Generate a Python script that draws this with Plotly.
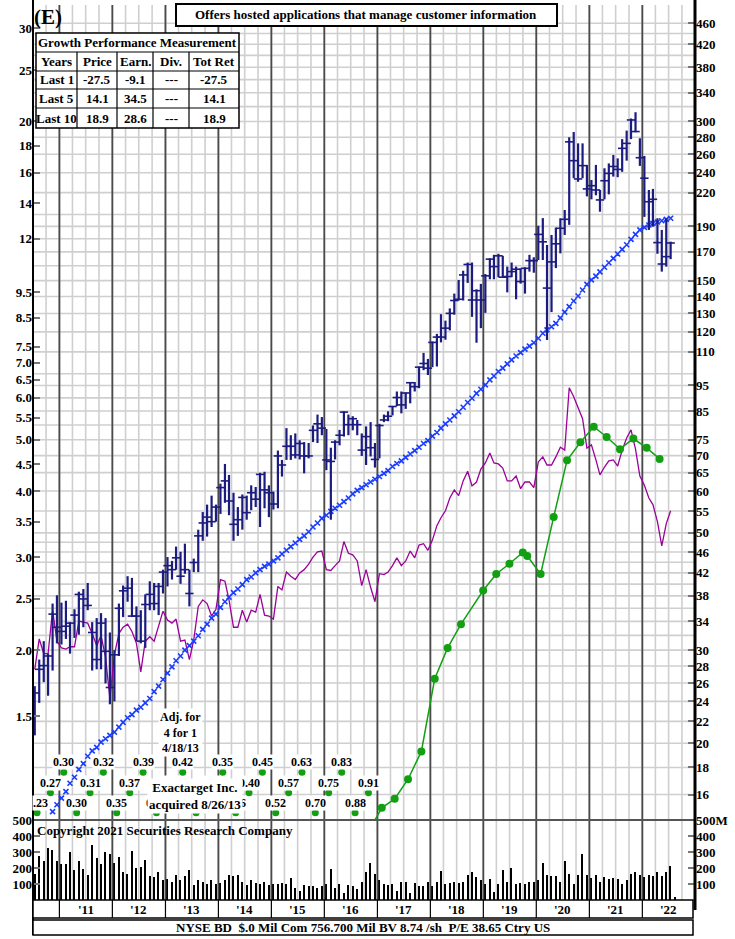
import math
import plotly.graph_objects as go
import pandas as pd

# ------------------------------------------------------------------ data
bar_months = pd.date_range('2010-07-01', periods=145, freq='MS') + pd.Timedelta(days=14)
vol_months = pd.date_range('2010-07-01', periods=146, freq='MS') + pd.Timedelta(days=14)

price_high = [1.71, 1.92, 2.08, 1.97, 2.45, 2.54, 2.46, 2.48, 2.26, 2.39,
              2.58, 2.61, 2.68, 2.26, 2.30, 2.35, 2.30, 2.16, 2.00, 2.45,
              2.65, 2.76, 2.74, 2.42, 2.38, 2.55, 2.70, 2.68, 2.68, 2.84,
              3.00, 2.95, 3.14, 3.07, 3.18, 2.84, 2.98, 3.38, 3.65, 3.77,
              3.92, 3.77, 4.13, 4.50, 4.29, 3.97, 3.73, 3.94, 3.92, 4.10,
              4.07, 4.33, 4.35, 4.10, 3.99, 4.77, 4.58, 5.26, 5.10, 5.14,
              4.99, 4.95, 4.93, 5.32, 5.58, 5.52, 5.24, 4.83, 4.99, 5.22,
              5.66, 5.58, 5.54, 5.45, 5.14, 5.30, 5.40, 4.93, 5.36, 5.58,
              5.66, 5.79, 6.17, 6.17, 6.14, 6.43, 6.43, 6.88, 7.30, 7.11,
              7.67, 7.93, 8.64, 8.40, 8.86, 9.45, 10.03, 10.44, 10.82, 10.82,
              9.63, 9.86, 10.29, 11.02, 11.19, 11.24, 11.14, 10.63, 10.82, 10.63,
              10.55, 10.60, 11.19, 11.07, 12.70, 13.13, 11.68, 12.20, 12.60, 13.12,
              13.60, 18.67, 19.10, 18.18, 18.18, 16.55, 15.50, 16.55, 14.84, 16.31,
              16.66, 17.28, 17.03, 18.52, 19.22, 20.26, 20.82, 18.59, 17.21, 14.84,
              14.91, 13.12, 12.47, 13.12, 11.85]
price_low = [1.38, 1.59, 1.74, 1.64, 1.83, 2.06, 2.05, 2.10, 1.97, 2.11,
             2.14, 2.21, 2.38, 1.83, 1.84, 1.84, 1.73, 1.58, 1.60, 1.95,
             2.31, 2.47, 2.31, 2.08, 2.06, 2.02, 2.38, 2.38, 2.33, 2.56,
             2.64, 2.72, 2.84, 2.67, 2.79, 2.42, 2.81, 2.81, 3.22, 3.28,
             3.42, 3.50, 3.62, 3.80, 3.60, 3.22, 3.29, 3.38, 3.53, 3.68,
             3.73, 3.42, 3.71, 3.57, 3.69, 3.71, 4.26, 4.58, 4.58, 4.61,
             4.59, 4.32, 4.61, 4.95, 4.93, 5.10, 4.38, 3.53, 4.59, 4.88,
             5.07, 5.10, 5.21, 5.10, 4.66, 4.48, 4.65, 4.43, 4.61, 5.40,
             5.42, 5.56, 5.79, 5.61, 5.72, 5.86, 6.17, 6.26, 6.77, 6.63,
             6.86, 6.88, 7.64, 7.73, 8.05, 8.62, 9.17, 9.17, 9.90, 8.54,
             7.63, 8.13, 8.69, 10.06, 10.06, 10.15, 10.15, 9.50, 10.15, 9.22,
             9.87, 9.45, 10.40, 10.35, 10.94, 10.94, 7.72, 8.72, 10.56, 11.26,
             12.20, 12.75, 15.62, 15.38, 15.62, 14.43, 14.25, 14.50, 13.50, 14.25,
             14.56, 15.73, 15.69, 16.06, 16.86, 18.52, 19.08, 16.48, 13.20, 12.47,
             12.65, 11.24, 10.40, 10.63, 10.98]
price_close = [1.66, 1.84, 1.87, 1.95, 2.34, 2.21, 2.17, 2.22, 2.25, 2.33,
               2.55, 2.50, 2.43, 2.16, 1.92, 2.25, 1.99, 1.70, 1.96, 2.40,
               2.59, 2.62, 2.32, 2.32, 2.08, 2.44, 2.55, 2.45, 2.64, 2.81,
               2.89, 2.84, 2.99, 2.76, 2.84, 2.56, 2.93, 3.29, 3.48, 3.57,
               3.50, 3.73, 4.06, 4.18, 3.83, 3.46, 3.53, 3.89, 3.64, 3.97,
               3.86, 4.30, 4.02, 3.97, 3.78, 4.66, 4.48, 4.86, 4.86, 4.68,
               4.92, 4.66, 4.66, 5.21, 5.36, 5.26, 4.58, 4.55, 4.95, 5.10,
               5.64, 5.34, 5.48, 5.34, 4.78, 5.07, 4.83, 4.59, 5.32, 5.45,
               5.54, 5.78, 6.01, 5.82, 6.13, 6.41, 6.30, 6.86, 6.97, 6.83,
               7.64, 7.82, 7.82, 8.13, 8.67, 9.17, 9.22, 10.25, 10.73, 9.19,
               9.57, 9.19, 10.21, 10.98, 10.63, 11.14, 10.15, 10.18, 10.40, 10.51,
               9.96, 10.55, 10.91, 10.91, 12.23, 11.84, 9.68, 10.85, 11.74, 12.56,
               13.06, 18.30, 16.86, 15.57, 16.50, 14.91, 15.12, 14.84, 14.21, 15.45,
               15.95, 16.44, 16.23, 17.79, 18.18, 20.13, 19.14, 17.08, 15.62, 14.10,
               14.25, 11.80, 10.75, 11.10, 11.78]
rel_strength = [1.84, 2.10, 1.97, 1.97, 2.38, 2.08, 2.02, 2.01, 2.03, 2.03,
                2.27, 2.26, 2.25, 2.15, 2.04, 2.13, 1.94, 1.62, 1.96, 2.15,
                2.21, 2.24, 2.17, 2.06, 1.82, 2.08, 2.12, 2.08, 2.23, 2.37,
                2.28, 2.25, 2.29, 2.08, 2.09, 1.92, 2.09, 2.42, 2.49, 2.45,
                2.32, 2.39, 2.72, 2.70, 2.49, 2.21, 2.21, 2.38, 2.26, 2.38,
                2.36, 2.55, 2.33, 2.32, 2.29, 2.64, 2.60, 2.81, 2.76, 2.72,
                2.80, 2.84, 2.91, 3.00, 3.07, 3.08, 2.84, 2.83, 2.89, 2.95,
                3.21, 3.05, 3.03, 2.95, 2.65, 2.84, 2.63, 2.47, 2.79, 2.78,
                2.81, 2.89, 2.99, 2.89, 2.95, 3.08, 2.99, 3.16, 3.18, 3.09,
                3.23, 3.44, 3.56, 3.67, 3.88, 4.02, 3.92, 4.18, 4.36, 4.09,
                4.16, 4.40, 4.52, 4.72, 4.52, 4.50, 4.42, 4.18, 4.18, 4.27,
                4.04, 4.16, 4.16, 4.06, 4.54, 4.64, 4.48, 4.48, 4.64, 4.84,
                4.78, 6.27, 6.03, 5.74, 5.48, 4.82, 4.89, 4.58, 4.29, 4.44,
                4.56, 4.58, 4.46, 4.78, 5.04, 5.22, 4.80, 4.27, 4.10, 3.88,
                3.77, 3.50, 3.15, 3.47, 3.67]
trend_line = [None, None, None, None,
              0.99, 1.02, 1.05, 1.08, 1.12, 1.15, 1.19, 1.22, 1.26, 1.29,
              1.31, 1.34, 1.36, 1.38, 1.40, 1.43, 1.46, 1.49, 1.51, 1.54,
              1.56, 1.59, 1.62, 1.67, 1.71, 1.76, 1.81, 1.86, 1.91, 1.95,
              2.00, 2.04, 2.08, 2.13, 2.19, 2.24, 2.30, 2.34, 2.41, 2.47,
              2.52, 2.57, 2.61, 2.66, 2.72, 2.75, 2.80, 2.84, 2.88, 2.91,
              2.95, 2.99, 3.04, 3.09, 3.14, 3.19, 3.24, 3.29, 3.35, 3.42,
              3.48, 3.55, 3.60, 3.66, 3.71, 3.76, 3.82, 3.88, 3.95, 4.01,
              4.06, 4.11, 4.16, 4.21, 4.26, 4.32, 4.37, 4.45, 4.51, 4.56,
              4.63, 4.70, 4.77, 4.84, 4.92, 4.98, 5.08, 5.16, 5.26, 5.36,
              5.45, 5.55, 5.65, 5.76, 5.88, 5.99, 6.12, 6.23, 6.35, 6.49,
              6.60, 6.73, 6.83, 6.96, 7.08, 7.20, 7.31, 7.42, 7.52, 7.63,
              7.78, 7.95, 8.07, 8.18, 8.30, 8.50, 8.72, 8.93, 9.15, 9.35,
              9.60, 9.84, 10.03, 10.20, 10.39, 10.60, 10.81, 11.02, 11.23, 11.46,
              11.69, 11.97, 12.23, 12.47, 12.61, 12.74, 12.83, 12.91, 12.98, 13.06,
              13.12]
volume = [165, 274, 245, 324, 310, 241,
          224, 224, 300, 187, 241, 191, 159, 346, 263, 224, 298, 285,
          230, 267, 176, 165, 306, 202, 207, 252, 150, 143, 176, 128,
          133, 115, 154, 122, 150, 187, 93, 128, 111, 100, 128, 98,
          107, 128, 154, 150, 159, 115, 93, 122, 104, 100, 111, 93,
          100, 100, 104, 100, 137, 72, 57, 93, 85, 85, 78, 89,
          100, 193, 78, 100, 46, 93, 89, 67, 111, 176, 230, 165,
          122, 100, 93, 100, 57, 115, 115, 46, 104, 89, 85, 115,
          89, 111, 180, 100, 107, 115, 104, 111, 159, 172, 143, 122,
          100, 133, 50, 100, 187, 115, 202, 100, 107, 100, 111, 115,
          128, 230, 154, 150, 150, 111, 245, 165, 100, 154, 285, 159,
          137, 154, 111, 143, 133, 137, 133, 100, 128, 165, 172, 159,
          143, 159, 150, 172, 150, 175, 210, 20]

eps_dates = ['2016-10-31', '2017-01-31', '2017-04-30', '2017-07-31', '2017-10-31',
             '2018-01-31', '2018-04-30', '2018-07-31', '2018-12-31', '2019-03-31',
             '2019-06-30', '2019-09-30', '2019-10-31', '2020-01-31', '2020-04-30',
             '2020-07-31', '2020-10-31', '2021-01-31', '2021-04-30', '2021-07-31',
             '2021-10-31', '2022-01-31', '2022-04-30']
eps_values = [13.6, 15.1, 15.7, 17.1, 19.3, 26.5, 30.3, 33.6, 38.9, 41.8,
              43.7, 45.9, 45.2, 41.8, 53.6, 68.6, 74.2, 79.4, 75.9, 72.0,
              75.4, 72.4, 69.0]

early_eps_dates = pd.date_range('2010-07-31', periods=26, freq=pd.offsets.MonthEnd(3))
early_eps_labels = ['.23', '0.27', '0.30', '0.30', '0.31', '0.32', '0.35', '0.37', '0.39',
                    '0.41', '0.41', '0.42', '0.41', '0.41', '0.35', '0.36', '0.40', '0.45',
                    '0.52', '0.57', '0.63', '0.70', '0.75', '0.83', '0.88', '0.91']

left_ticks = [30, 25, 20, 18, 16, 14, 12, 9.5, 8.5, 7.5, 7.0, 6.5, 6.0, 5.5, 5.0,
              4.5, 4.0, 3.5, 3.0, 2.5, 2.0, 1.5]
left_labels = ['30', '25', '20', '18', '16', '14', '12', '9.5', '8.5', '7.5', '7.0', '6.5',
               '6.0', '5.5', '5.0', '4.5', '4.0', '3.5', '3.0', '2.5', '2.0', '1.5']
right_ticks = [460, 420, 380, 340, 300, 280, 260, 240, 220, 190, 170, 150, 140, 130, 120,
               110, 95, 85, 75, 70, 65, 60, 55, 50, 46, 42, 38, 34, 30, 28, 26, 24, 22,
               20, 18, 16]
grid_values = (list(range(16, 51, 2)) + list(range(55, 101, 5)) +
               list(range(110, 201, 10)) + list(range(220, 461, 20)))
vol_ticks = [100, 200, 300, 400, 500]
vol_left_labels = ['100', '200', '300', '400', '500']
vol_right_labels = ['100', '200', '300', '400', '500M']
year_labels = ["'11", "'12", "'13", "'14", "'15", "'16", "'17", "'18", "'19", "'20", "'21", "'22"]
label_years = list(range(2011, 2023))

table_title = 'Growth Performance Measurement'
table_header = ['Years', 'Price', 'Earn.', 'Div.', 'Tot Ret']
table_years = ['Last 1', 'Last 5', 'Last 10']
table_price = ['-27.5', '14.1', '18.9']
table_earn = ['-9.1', '34.5', '28.6']
table_div = ['---', '---', '---']
table_totret = ['-27.5', '14.1', '18.9']

title_text = 'Offers hosted applications that manage customer information'
footer_text = 'NYSE BD  $.0 Mil Com 756.700 Mil BV 8.74 /sh  P/E 38.65 Ctry US'

# ------------------------------------------------------------------ layout helpers
W, H = 735, 939
ML, MR, MT, MB = 33, 40, 5, 39
PW, PH = W - ML - MR, H - MT - MB
def px(x):
    return (x - ML) / PW
def py(y):
    return (H - MB - y) / PH

VOL_TOP = py(820)
FONT = 'Liberation Serif'
NAVY = '#1b1b80'
GREEN = '#12a012'
PE_RATIO = 15.0
price_range = [-0.0202, 1.5213]
right_range = [price_range[0] + math.log10(PE_RATIO), price_range[1] + math.log10(PE_RATIO)]

fig = go.Figure()

# year separator lines (price + volume)
yl_x, yl_y, yl_v = [], [], []
for yr in label_years:
    d = pd.Timestamp(f'{yr}-01-01')
    yl_x += [d, d, None]
    yl_y += [0.5, 40, None]
    yl_v += [0, 500, None]
fig.add_trace(go.Scatter(x=yl_x, y=yl_y, mode='lines', yaxis='y',
                         line=dict(color='#4a4a4a', width=1.8), hoverinfo='skip'))
fig.add_trace(go.Scatter(x=yl_x, y=yl_v, mode='lines', yaxis='y3',
                         line=dict(color='#4a4a4a', width=1.8), hoverinfo='skip'))

# volume bars
fig.add_trace(go.Bar(x=vol_months, y=volume, yaxis='y3', marker_color='black',
                     marker_line_width=0, width=9 * 86400000))

# relative strength
fig.add_trace(go.Scatter(x=bar_months, y=rel_strength, mode='lines', yaxis='y',
                         line=dict(color='#9a009a', width=1.3)))

# trend x's
fig.add_trace(go.Scatter(x=bar_months, y=trend_line, mode='markers', yaxis='y',
                         marker=dict(symbol='x-thin', size=5, color='#1a3cff',
                                     line=dict(width=1.6, color='#1a3cff'))))

# price high-low bars
hl_x, hl_y = [], []
for d, lo, hi in zip(bar_months, price_low, price_high):
    hl_x += [d, d, None]
    hl_y += [lo, hi, None]
fig.add_trace(go.Scatter(x=hl_x, y=hl_y, mode='lines', yaxis='y',
                         line=dict(color=NAVY, width=2.2)))
fig.add_trace(go.Scatter(x=bar_months, y=price_close, mode='markers', yaxis='y',
                         marker=dict(symbol='line-ew', size=6,
                                     line=dict(width=1.6, color=NAVY))))

# earnings line (right scale)
fig.add_trace(go.Scatter(x=eps_dates, y=eps_values, mode='lines+markers', yaxis='y2',
                         line=dict(color=GREEN, width=1.5),
                         marker=dict(size=8, color=GREEN)))

# early earnings dots (below scale) on a helper axis
row_levels = [0.009, 0.0335, 0.0585]
eps_rows = [row_levels[i % 3] for i in range(len(early_eps_labels))]
fig.add_trace(go.Scatter(x=early_eps_dates, y=eps_rows, mode='markers', yaxis='y4',
                         marker=dict(size=7, color=GREEN)))

annotations = []
for d, lab, lev in zip(early_eps_dates, early_eps_labels, eps_rows):
    annotations.append(dict(x=d, y=lev, xref='x', yref='y4', text=f'<b>{lab}</b>',
                            showarrow=False, yshift=10, xshift=3 if lab.startswith('.') else 0,
                            bgcolor='white', borderpad=0,
                            font=dict(family=FONT, size=12, color='black')))

# ------------------------------------------------------------------ shapes
shapes = []
for q in pd.date_range('2010-07-01', '2022-12-31', freq='QS'):
    shapes.append(dict(type='line', xref='x', yref='paper', x0=q, x1=q, y0=0, y1=1,
                       line=dict(color='#cfcfcf', width=1.6), layer='below'))
for g in grid_values:
    shapes.append(dict(type='line', xref='paper', yref='y2', x0=0, x1=1, y0=g, y1=g,
                       line=dict(color='#cfcfcf', width=1.6), layer='below'))
shapes.append(dict(type='line', xref='paper', yref='paper', x0=0, x1=1, y0=VOL_TOP, y1=VOL_TOP,
                   line=dict(color='#555555', width=2.2)))
shapes.append(dict(type='line', xref='paper', yref='paper', x0=0, x1=0, y0=py(935), y1=1.006,
                   line=dict(color='black', width=2)))
shapes.append(dict(type='line', xref='paper', yref='paper', x0=1, x1=1, y0=py(910), y1=1.006,
                   line=dict(color='black', width=3)))
shapes.append(dict(type='rect', xref='paper', yref='paper', x0=0, x1=px(693), y0=py(918), y1=0,
                   line=dict(color='black', width=1.5), fillcolor='white'))
for yr in label_years:
    shapes.append(dict(type='line', xref='x', yref='paper', x0=f'{yr}-01-01', x1=f'{yr}-01-01',
                       y0=py(918), y1=0, line=dict(color='black', width=1.2)))
shapes.append(dict(type='rect', xref='paper', yref='paper', x0=0, x1=px(693), y0=py(935), y1=py(920),
                   line=dict(color='black', width=1.5), fillcolor='white'))
shapes.append(dict(type='rect', xref='paper', yref='paper', x0=px(176), x1=px(557), y0=py(26), y1=py(4),
                   line=dict(color='black', width=2), fillcolor='white'))
tx = [36, 77, 117, 153, 189, 239]
ty = [33, 52, 71, 89, 108, 128]
shapes.append(dict(type='rect', xref='paper', yref='paper', x0=px(tx[0]), x1=px(tx[-1]),
                   y0=py(ty[-1]), y1=py(ty[0]), line=dict(color='black', width=1.5),
                   fillcolor='white'))
for yy in ty[1:-1]:
    shapes.append(dict(type='line', xref='paper', yref='paper', x0=px(tx[0]), x1=px(tx[-1]),
                       y0=py(yy), y1=py(yy), line=dict(color='black', width=1.2)))
for xx in tx[1:-1]:
    shapes.append(dict(type='line', xref='paper', yref='paper', x0=px(xx), x1=px(xx),
                       y0=py(ty[-1]), y1=py(ty[1]), line=dict(color='black', width=1.2)))

# ------------------------------------------------------------------ text
def txt(x, y, s, size=13, xanchor='center', bg=None, **kw):
    d = dict(x=px(x), y=py(y), xref='paper', yref='paper', text=s, showarrow=False,
             xanchor=xanchor, yanchor='middle', font=dict(family=FONT, size=size, color='black'))
    if bg:
        d['bgcolor'] = bg
    d.update(kw)
    annotations.append(d)

txt(366, 15, f'<b>{title_text}</b>', size=13)
txt(48, 17, '<b>(E)</b>', size=21)
txt((tx[0] + tx[-1]) / 2, 43, f'<b>{table_title}</b>', size=13)
for i, h in enumerate(table_header):
    txt((tx[i] + tx[i + 1]) / 2, 62, f'<b>{h}</b>', size=13)
for r in range(3):
    cy = (ty[r + 2] + ty[r + 3]) / 2
    row = [table_years[r], table_price[r], table_earn[r], table_div[r], table_totret[r]]
    for i, v in enumerate(row):
        txt((tx[i] + tx[i + 1]) / 2, cy, f'<b>{v}</b>', size=13)

txt(180, 732, '<b>Adj. for<br>4 for 1<br>4/18/13</b>', size=12, bg='white')
txt(195, 796, '<b>Exactarget Inc.<br>acquired 8/26/13</b>', size=13, bg='white')
txt(35, 830, '<b>Copyright 2021 Securities Research Company</b>', size=13, xanchor='left')
txt(363, 927.5, f'<b>{footer_text}</b>', size=13)
for yr, lab in zip(label_years, year_labels):
    annotations.append(dict(x=f'{yr}-07-02', y=py(909), xref='x', yref='paper',
                            text=f'<b>{lab}</b>', showarrow=False, yanchor='middle',
                            font=dict(family=FONT, size=13, color='black')))

tickfont = dict(family=FONT, size=13, color='black')
common = dict(automargin=False, zeroline=False, showline=False, showgrid=False)
fig.update_layout(
    template='none',
    width=W, height=H, margin=dict(l=ML, r=MR, t=MT, b=MB, autoexpand=False),
    paper_bgcolor='white', plot_bgcolor='white', showlegend=False, bargap=0,
    xaxis=dict(type='date', range=['2010-07-03', '2022-12-30'],
               showticklabels=False, ticks='', anchor='y3', **common),
    yaxis=dict(type='log', domain=[VOL_TOP, 1], range=price_range, tickvals=left_ticks,
               ticktext=[f'<b>{t}</b>' for t in left_labels], ticks='inside', ticklen=7,
               tickwidth=2, tickcolor='#777777', tickfont=tickfont, anchor='x', **common),
    yaxis2=dict(type='log', overlaying='y', side='right', range=right_range,
                tickvals=right_ticks, ticktext=[f'<b>{t}</b>' for t in right_ticks],
                ticks='inside', ticklen=7, tickwidth=2, tickcolor='#777777',
                tickfont=tickfont, anchor='x', **common),
    yaxis3=dict(domain=[0, VOL_TOP], range=[0, 500], tickvals=vol_ticks,
                ticktext=[f'<b>{t}</b>' for t in vol_left_labels], ticks='inside', ticklen=7,
                tickwidth=2, tickcolor='#777777', tickfont=tickfont, anchor='x', **common),
    yaxis4=dict(overlaying='y', range=[0, 1], visible=False, **common),
    yaxis5=dict(overlaying='y3', side='right', range=[0, 500], tickvals=vol_ticks,
                ticktext=[f'<b>{t}</b>' for t in vol_right_labels], ticks='inside', ticklen=7,
                tickwidth=2, tickcolor='#777777', tickfont=tickfont, anchor='x', **common),
    shapes=shapes, annotations=annotations,
)
fig.add_trace(go.Scatter(x=[bar_months[0]], y=[0], yaxis='y5', mode='markers',
                         marker=dict(size=0.1, opacity=0), hoverinfo='skip'))

fig.write_html('out.html', config={'displayModeBar': False},
               post_script="document.body.style.margin='0px';document.body.style.padding='0px';"
                           "document.documentElement.style.overflow='hidden';")
